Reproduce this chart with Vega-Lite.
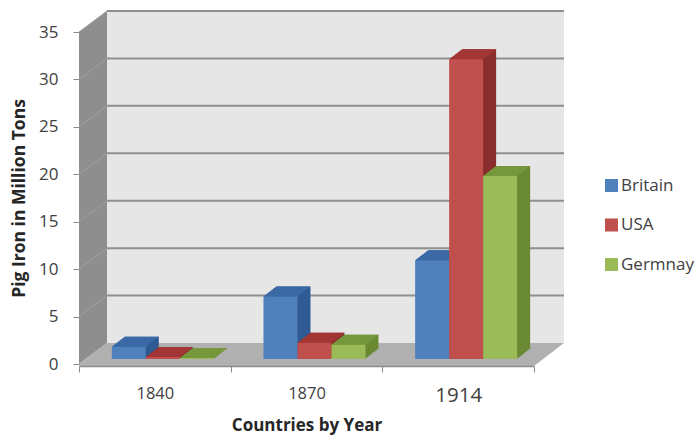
{
  "$schema": "https://vega.github.io/schema/vega-lite/v6.json",
  "width": 455,
  "height": 332,
  "autosize": {"type": "none"},
  "padding": {"left": 79, "top": 32, "right": 165, "bottom": 73},
  "background": "white",
  "datasets": {
    "bars": [
      {"year": "1840", "country": "Britain", "tons": 1.3},
      {"year": "1840", "country": "USA", "tons": 0.2},
      {"year": "1840", "country": "Germnay", "tons": 0.1},
      {"year": "1870", "country": "Britain", "tons": 6.6},
      {"year": "1870", "country": "USA", "tons": 1.7},
      {"year": "1870", "country": "Germnay", "tons": 1.5},
      {"year": "1914", "country": "Britain", "tons": 10.4},
      {"year": "1914", "country": "USA", "tons": 31.6},
      {"year": "1914", "country": "Germnay", "tons": 19.3}
    ],
    "ticks": [{"tick": 5}, {"tick": 10}, {"tick": 15}, {"tick": 20}, {"tick": 25}, {"tick": 30}, {"tick": 35}]
  },
  "config": {
    "view": {"stroke": null},
    "font": "Open Sans",
    "axisY": {
      "titleFontSize": 17.5, "titleFontWeight": "bold", "titleColor": "#262626", "titlePadding": 10, "grid": false,
      "labelFontSize": 17, "labelColor": "#404040", "labelPadding": 15, "tickSize": 6, "tickColor": "#8a8a8a", "domainColor": "#8a8a8a", "zindex": 1
    }
  },
  "layer": [
    {
      "data": {"values": [{"face": "room"}]},
      "mark": {"type": "point", "filled": true, "opacity": 1, "size": 4, "color": "#e6e6e6", "shape": "M-199.5,-187L257.5,-187L257.5,145L-199.5,145Z"},
      "encoding": {}
    },
    {
      "data": {"values": [{"face": "room"}]},
      "mark": {"type": "point", "filled": true, "opacity": 1, "size": 4, "color": "#8e8e8e", "shape": "M-227.5,-166L-199.5,-187L-199.5,145L-227.5,166Z"},
      "encoding": {}
    },
    {
      "data": {"values": [{"face": "room"}]},
      "mark": {"type": "point", "filled": true, "opacity": 1, "size": 4, "color": "#b0b0b0", "shape": "M-227.5,168L227.5,168L257.5,145L-199.5,145L-227.5,166Z"},
      "encoding": {}
    },
    {
      "data": {"name": "ticks"},
      "mark": {"type": "point", "filled": false, "opacity": 1, "size": 4, "stroke": "#8f8f8f", "strokeWidth": 2, "shape": "M-199.5,-21L257.5,-21"},
      "encoding": {"y": {"field": "tick", "type": "quantitative", "axis": {"title": "Pig Iron in Million Tons", "values": [0, 5, 10, 15, 20, 25, 30, 35]}, "scale": {"domain": [0, 35], "nice": false}}}
    },
    {
      "data": {"name": "ticks"},
      "mark": {"type": "point", "filled": false, "opacity": 1, "size": 4, "stroke": "#a0a0a0", "strokeWidth": 1, "shape": "M-227.5,0L-199.5,-21"},
      "encoding": {"y": {"field": "tick", "type": "quantitative", "axis": {"title": "Pig Iron in Million Tons", "values": [0, 5, 10, 15, 20, 25, 30, 35]}, "scale": {"domain": [0, 35], "nice": false}}}
    },
    {
      "data": {"name": "bars"},
      "encoding": {
        "x": {
          "field": "year", "type": "nominal",
          "scale": {"paddingInner": 0, "paddingOuter": 0},
          "axis": {
            "title": "Countries by Year", "titleFontSize": 17, "titleFontWeight": "bold", "titleColor": "#262626", "titlePadding": 12,
            "labelAngle": 0, "labelFontSize": {"condition": {"test": "datum.value === '1914'", "value": 20.5}, "value": 16.5},
            "labelColor": "#404040", "labelPadding": 13, "offset": 2, "tickBand": "extent", "tickSize": 6, "tickColor": "#8a8a8a", "domainColor": "#8a8a8a", "domainWidth": 1.5, "zindex": 1
          }
        },
        "y": {
          "field": "tons", "type": "quantitative", "stack": null,
          "scale": {"domain": [0, 35], "nice": false},
          "axis": {"title": "Pig Iron in Million Tons", "values": [0, 5, 10, 15, 20, 25, 30, 35]}
        },
        "y2": {"datum": 0}
      },
      "resolve": {"scale": {"color": "independent", "xOffset": "independent"}},
      "layer": [
        {"mark": {"type": "bar", "yOffset": -15, "y2Offset": -15}, "encoding": {"xOffset": {"field": "country", "sort": ["Britain", "USA", "Germnay"], "scale": {"paddingInner": 0, "paddingOuter": 0, "range": [45.8, 147.8]}}, "fill": {"field": "country", "type": "nominal", "legend": null, "scale": {"domain": ["Britain", "USA", "Germnay"], "range": ["#2f5b95", "#8a2f2d", "#6a8a34"]}}}},
        {"mark": {"type": "bar", "yOffset": -14.2, "y2Offset": -14.2}, "encoding": {"xOffset": {"field": "country", "sort": ["Britain", "USA", "Germnay"], "scale": {"paddingInner": 0, "paddingOuter": 0, "range": [44.8, 146.8]}}, "fill": {"field": "country", "type": "nominal", "legend": null}}},
        {"mark": {"type": "bar", "yOffset": -13.5, "y2Offset": -13.5}, "encoding": {"xOffset": {"field": "country", "sort": ["Britain", "USA", "Germnay"], "scale": {"paddingInner": 0, "paddingOuter": 0, "range": [43.8, 145.8]}}, "fill": {"field": "country", "type": "nominal", "legend": null}}},
        {"mark": {"type": "bar", "yOffset": -12.7, "y2Offset": -12.7}, "encoding": {"xOffset": {"field": "country", "sort": ["Britain", "USA", "Germnay"], "scale": {"paddingInner": 0, "paddingOuter": 0, "range": [42.8, 144.8]}}, "fill": {"field": "country", "type": "nominal", "legend": null}}},
        {"mark": {"type": "bar", "yOffset": -11.9, "y2Offset": -11.9}, "encoding": {"xOffset": {"field": "country", "sort": ["Britain", "USA", "Germnay"], "scale": {"paddingInner": 0, "paddingOuter": 0, "range": [41.8, 143.8]}}, "fill": {"field": "country", "type": "nominal", "legend": null}}},
        {"mark": {"type": "bar", "yOffset": -11.2, "y2Offset": -11.2}, "encoding": {"xOffset": {"field": "country", "sort": ["Britain", "USA", "Germnay"], "scale": {"paddingInner": 0, "paddingOuter": 0, "range": [40.8, 142.8]}}, "fill": {"field": "country", "type": "nominal", "legend": null}}},
        {"mark": {"type": "bar", "yOffset": -10.4, "y2Offset": -10.4}, "encoding": {"xOffset": {"field": "country", "sort": ["Britain", "USA", "Germnay"], "scale": {"paddingInner": 0, "paddingOuter": 0, "range": [39.8, 141.8]}}, "fill": {"field": "country", "type": "nominal", "legend": null}}},
        {"mark": {"type": "bar", "yOffset": -9.6, "y2Offset": -9.6}, "encoding": {"xOffset": {"field": "country", "sort": ["Britain", "USA", "Germnay"], "scale": {"paddingInner": 0, "paddingOuter": 0, "range": [38.8, 140.8]}}, "fill": {"field": "country", "type": "nominal", "legend": null}}},
        {"mark": {"type": "bar", "yOffset": -8.8, "y2Offset": -8.8}, "encoding": {"xOffset": {"field": "country", "sort": ["Britain", "USA", "Germnay"], "scale": {"paddingInner": 0, "paddingOuter": 0, "range": [37.8, 139.8]}}, "fill": {"field": "country", "type": "nominal", "legend": null}}},
        {"mark": {"type": "bar", "yOffset": -8.1, "y2Offset": -8.1}, "encoding": {"xOffset": {"field": "country", "sort": ["Britain", "USA", "Germnay"], "scale": {"paddingInner": 0, "paddingOuter": 0, "range": [36.8, 138.8]}}, "fill": {"field": "country", "type": "nominal", "legend": null}}},
        {"mark": {"type": "bar", "yOffset": -7.3, "y2Offset": -7.3}, "encoding": {"xOffset": {"field": "country", "sort": ["Britain", "USA", "Germnay"], "scale": {"paddingInner": 0, "paddingOuter": 0, "range": [35.8, 137.8]}}, "fill": {"field": "country", "type": "nominal", "legend": null}}},
        {"mark": {"type": "bar", "yOffset": -6.5, "y2Offset": -6.5}, "encoding": {"xOffset": {"field": "country", "sort": ["Britain", "USA", "Germnay"], "scale": {"paddingInner": 0, "paddingOuter": 0, "range": [34.8, 136.8]}}, "fill": {"field": "country", "type": "nominal", "legend": null}}},
        {"mark": {"type": "bar", "yOffset": -5.8, "y2Offset": -5.8}, "encoding": {"xOffset": {"field": "country", "sort": ["Britain", "USA", "Germnay"], "scale": {"paddingInner": 0, "paddingOuter": 0, "range": [33.8, 135.8]}}, "fill": {"field": "country", "type": "nominal", "legend": null}}},
        {
          "mark": {"type": "point", "filled": true, "opacity": 1, "size": 4, "yOffset": -5, "shape": "M-17,0L17,0L30,-10L-4,-10Z"},
          "encoding": {
            "xOffset": {"field": "country", "type": "nominal", "sort": ["Britain", "USA", "Germnay"], "scale": {"type": "band", "paddingInner": 0, "paddingOuter": 0, "range": [32.8, 134.8]}},
            "color": {"field": "country", "type": "nominal", "legend": null, "scale": {"domain": ["Britain", "USA", "Germnay"], "range": ["#3a69a6", "#a23634", "#76973c"]}}
          }
        },
        {
          "mark": {"type": "bar", "yOffset": -5, "y2Offset": -5},
          "encoding": {
            "xOffset": {"field": "country", "sort": ["Britain", "USA", "Germnay"], "scale": {"paddingInner": 0, "paddingOuter": 0, "range": [32.8, 134.8]}},
            "color": {
              "field": "country", "type": "nominal",
              "scale": {"domain": ["Britain", "USA", "Germnay"], "range": ["#4f81bd", "#c0504d", "#9bbb59"]},
              "legend": {
                "title": null, "orient": "none", "legendX": 524, "legendY": 145, "symbolType": "square", "symbolSize": 170, "symbolStrokeWidth": 0,
                "labelFontSize": 17, "labelColor": "#404040", "labelOffset": 1, "rowPadding": 21.5, "labelLimit": 120
              }
            }
          }
        }
      ]
    }
  ]
}
